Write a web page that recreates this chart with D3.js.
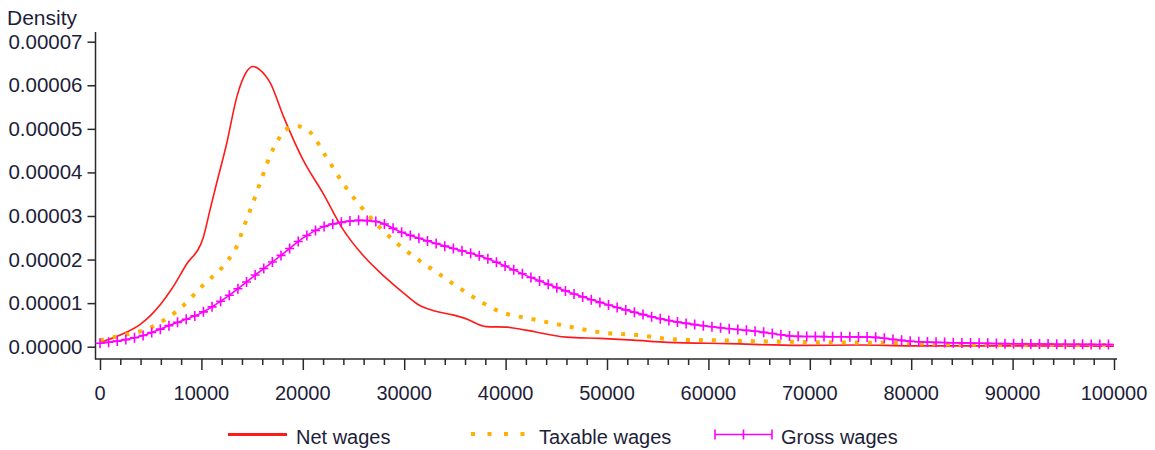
<!DOCTYPE html>
<html>
<head>
<meta charset="utf-8">
<script src="https://cdn.jsdelivr.net/npm/d3@7"></script>
<style>
  body { margin: 0; background: #fff; }
  text { font-family: "Liberation Sans", Arial, sans-serif; fill: #1e1e3a; }
</style>
</head>
<body>
<svg width="1155" height="450"></svg>
<script>
var svg = d3.select("svg");

// density values (wage, density in units of 1e-5)
var netWages = [
  [0, 0.10], [2000, 0.27], [4000, 0.52], [5000, 0.72], [6000, 0.98], [7000, 1.30],
  [8500, 1.88], [10200, 2.52], [10850, 3.14], [11500, 3.75], [12500, 4.67],
  [13500, 5.74], [14450, 6.31], [15100, 6.43], [15800, 6.35], [16800, 6.05], [18100, 5.28],
  [20000, 4.30], [22000, 3.52], [24000, 2.68], [26000, 2.08], [28000, 1.62], [30000, 1.22],
  [31500, 0.95], [33000, 0.82], [34800, 0.73], [36000, 0.65], [38100, 0.46], [40100, 0.45],
  [42000, 0.38], [46000, 0.22], [49300, 0.19], [52600, 0.15], [56000, 0.10], [62000, 0.07],
  [69000, 0.03], [75000, 0.04], [80000, 0.02], [90000, 0.02], [100000, 0.01]
];
var taxableWages = [
  [0, 0.15], [2000, 0.25], [4800, 0.42], [7900, 0.88], [10200, 1.42], [12500, 1.95],
  [13500, 2.31], [14100, 2.70], [15000, 3.25], [15900, 3.83], [16800, 4.40], [17600, 4.76],
  [18200, 4.97], [19500, 5.06], [20700, 4.93], [22300, 4.36], [24300, 3.64], [26300, 3.06],
  [29300, 2.37], [30100, 2.22], [31900, 1.91], [33000, 1.74], [36000, 1.26], [39500, 0.80],
  [42700, 0.63], [46000, 0.475], [49300, 0.33], [52900, 0.27], [56500, 0.17], [62000, 0.14],
  [67400, 0.115], [72000, 0.10], [80000, 0.08], [86000, 0.05], [100000, 0.04]
];
var grossWages = [
  [0, 0.08], [2000, 0.14], [4000, 0.24], [7200, 0.52], [10200, 0.80], [12800, 1.19],
  [15500, 1.68], [18100, 2.14], [20000, 2.49], [22000, 2.75], [23700, 2.85], [25600, 2.90],
  [27300, 2.87], [29600, 2.64], [33400, 2.35], [38100, 2.03], [42700, 1.57], [47000, 1.19],
  [51300, 0.88], [55900, 0.61], [60800, 0.445], [65100, 0.34], [67000, 0.28], [68400, 0.24],
  [72000, 0.23], [76000, 0.22], [78500, 0.16], [80200, 0.12], [86800, 0.08], [100000, 0.05]
];
var seriesNames = ["Net wages", "Taxable wages", "Gross wages"];
var yTicks = [0, 1e-5, 2e-5, 3e-5, 4e-5, 5e-5, 6e-5, 7e-5];
var xMajorTicks = d3.range(0, 100001, 10000);
var xMinorTicks = d3.range(0, 100001, 2000);

var x = d3.scaleLinear().domain([0, 100000]).range([100, 1114]);
var y = d3.scaleLinear().domain([0, 7e-5]).range([346.7, 41.7]);

var line = d3.line()
    .x(function(d) { return x(d[0]); })
    .y(function(d) { return y(d[1] * 1e-5); })
    .curve(d3.curveMonotoneX);

var axisColor = "#2a2a2a";

// y axis
var yAxis = svg.append("g")
    .attr("transform", "translate(95.5,0)")
    .call(d3.axisLeft(y).tickValues(yTicks).tickSize(8).tickSizeOuter(0).tickPadding(5)
      .tickFormat(d3.format(".5f")));
yAxis.select(".domain").remove();
yAxis.selectAll("line").attr("stroke", axisColor).attr("stroke-width", 1.5);
yAxis.selectAll("text").style("font-size", "20.5px").attr("fill", "#1e1e3a");
yAxis.append("line").attr("y1", 32).attr("y2", 359.5)
    .attr("stroke", axisColor).attr("stroke-width", 1.5);

// x axis
var xAxis = svg.append("g")
    .attr("transform", "translate(0,359)");
xAxis.append("line").attr("x1", 95).attr("x2", 1117)
    .attr("stroke", axisColor).attr("stroke-width", 1.5);
xAxis.selectAll(".minor").data(xMinorTicks).enter().append("line")
    .attr("x1", function(d) { return x(d) + 0.5; })
    .attr("x2", function(d) { return x(d) + 0.5; })
    .attr("y1", 0)
    .attr("y2", function(d) { return d % 10000 === 0 ? 11 : 6; })
    .attr("stroke", axisColor).attr("stroke-width", 1.5);
xAxis.selectAll("text").data(xMajorTicks).enter().append("text")
    .attr("x", function(d) { return x(d); })
    .attr("y", 41)
    .attr("text-anchor", "middle")
    .style("font-size", "20px")
    .text(function(d) { return d; });

svg.append("text")
    .attr("x", 7).attr("y", 25)
    .style("font-size", "21px")
    .text("Density");

// curves
var styles = [
  { color: "#ff1a1a", width: 1.6, dash: null },
  { color: "#ffb000", width: 4, dash: "4 9" },
  { color: "#ff00ff", width: 1.6, dash: null }
];
var data = [netWages, taxableWages, grossWages];

var plot = svg.append("g");
plot.selectAll("path.curve").data(data).enter().append("path")
    .attr("class", "curve")
    .attr("d", line)
    .attr("fill", "none")
    .attr("stroke", function(d, i) { return styles[i].color; })
    .attr("stroke-width", function(d, i) { return styles[i].width; })
    .attr("stroke-dasharray", function(d, i) { return styles[i].dash; });

// plus markers on the gross curve, spaced along x
var grossPath = plot.selectAll("path.curve").nodes()[2];
var total = grossPath.getTotalLength();
function pointAtX(px) {
  var lo = 0, hi = total, p;
  for (var k = 0; k < 30; k++) {
    var mid = (lo + hi) / 2;
    p = grossPath.getPointAtLength(mid);
    if (p.x < px) lo = mid; else hi = mid;
  }
  return p;
}
var markerX = d3.range(0, 100001, 850);
plot.selectAll(".plus").data(markerX).enter().append("path")
    .attr("class", "plus")
    .attr("d", function(d) {
      var p = pointAtX(x(d));
      return "M" + (p.x - 4.5) + "," + p.y + "H" + (p.x + 4.5) +
             "M" + p.x + "," + (p.y - 5) + "V" + (p.y + 5);
    })
    .attr("stroke", "#ff00ff")
    .attr("stroke-width", 1.6)
    .attr("fill", "none");

// legend
var legendX = [228, 471, 715];
var legendW = [59, 52, 57];
var legend = svg.append("g");
seriesNames.forEach(function(name, i) {
  var g = legend.append("g");
  var lx = legendX[i];
  if (i === 1) {
    [0, 1, 2, 3].forEach(function(j) {
      g.append("rect")
        .attr("x", lx + j * 16.5).attr("y", 432).attr("width", 4).attr("height", 4)
        .attr("fill", styles[i].color);
    });
  } else {
    g.append("line")
      .attr("x1", lx).attr("x2", lx + legendW[i])
      .attr("y1", 434.5).attr("y2", 434.5)
      .attr("stroke", styles[i].color)
      .attr("stroke-width", i === 0 ? 3 : 1.6);
  }
  if (i === 2) {
    [0, 0.5, 1].forEach(function(f) {
      var px = lx + f * legendW[i];
      g.append("path")
        .attr("d", "M" + px + "," + 429.5 + "V" + 439.5)
        .attr("stroke", styles[i].color).attr("stroke-width", 1.6);
    });
  }
  g.append("text")
    .attr("x", lx + legendW[i] + (i === 1 ? 16 : 9))
    .attr("y", 444)
    .style("font-size", "20px")
    .text(name);
});
</script>
</body>
</html>
